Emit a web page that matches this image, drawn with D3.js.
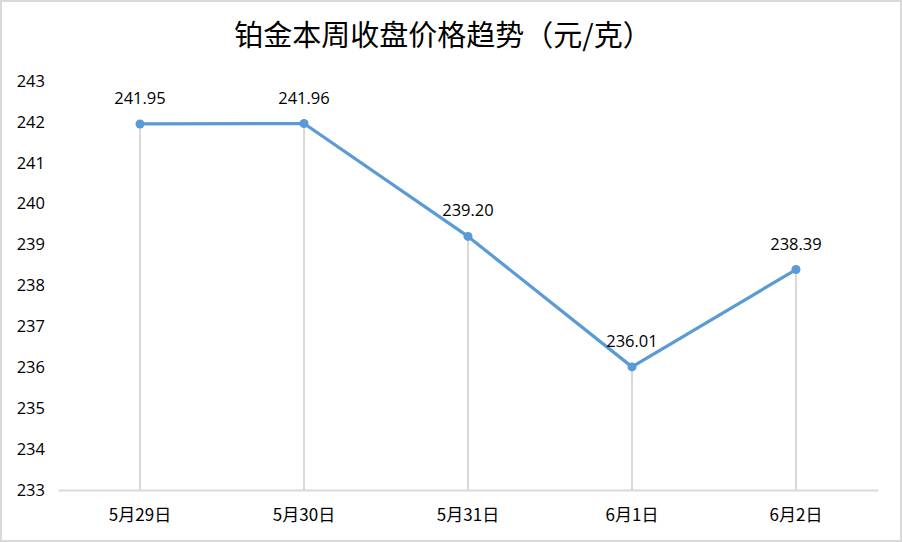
<!DOCTYPE html>
<html><head><meta charset="utf-8">
<script src="https://cdn.jsdelivr.net/npm/d3@7/dist/d3.min.js"></script>
<style>body{margin:0;background:#fff}svg{display:block}</style>
</head><body>
<script>
const categories = ["5月29日","5月30日","5月31日","6月1日","6月2日"];
const values = [241.95, 241.96, 239.20, 236.01, 238.39];
const yTicks = [233,234,235,236,237,238,239,240,241,242,243];
const labels = ["241.95","241.96","239.20","236.01","238.39"];
const title = "铂金本周收盘价格趋势（元/克）";

(function(){
const W = 902, H = 542;
const svg = d3.select("body").append("svg").attr("width", W).attr("height", H);
svg.append("rect").attr("x",1).attr("y",1).attr("width",W-2).attr("height",H-2)
  .attr("fill","#fff").attr("stroke","#d9d9d9").attr("stroke-width",2);

const mL = 58, mR = 878, mT = 81, mB = 490;
const x = d3.scaleBand().domain(categories).range([mL, mR]);
const y = d3.scaleLinear().domain([233, 243]).range([mB, mT]);
const font = "'Noto Sans CJK SC', 'Liberation Sans', sans-serif";
const numFont = "'Open Sans', 'Liberation Sans', sans-serif";

svg.append("text").attr("x", 443).attr("y", 46).attr("text-anchor","middle")
  .attr("font-family", font).attr("font-size", 29).attr("fill","#000").text(title);

const yAxis = d3.axisLeft(y).tickValues(yTicks).tickSize(0).tickPadding(0);
const ya = svg.append("g").attr("transform", `translate(${mL-13},0)`).call(yAxis);
ya.select(".domain").remove();
ya.selectAll("text").attr("font-family",numFont).attr("font-size",16.5).attr("fill","#000");

const cx = d => x(d) + x.bandwidth()/2;
svg.append("g").selectAll("line").data(categories).join("line")
  .attr("x1", cx).attr("x2", cx)
  .attr("y1", (d,i) => y(values[i])).attr("y2", mB)
  .attr("stroke","#d9d9d9").attr("stroke-width",2);

const xAxis = d3.axisBottom(x).tickSize(0).tickPadding(19);
const xa = svg.append("g").attr("transform", `translate(0,${mB})`).call(xAxis);
xa.select(".domain").attr("stroke","#d9d9d9").attr("stroke-width",2);
xa.selectAll("text").attr("font-family", font).attr("font-size",17).attr("fill","#000");

const line = d3.line().x((d,i) => cx(categories[i])).y(d => y(d));
svg.append("path").datum(values).attr("d", line).attr("fill","none")
  .attr("stroke","#5b9bd5").attr("stroke-width",3.25).attr("stroke-linejoin","round");
svg.append("g").selectAll("circle").data(values).join("circle")
  .attr("cx",(d,i)=>cx(categories[i])).attr("cy", d=>y(d)).attr("r",4.5).attr("fill","#5b9bd5");

svg.append("g").selectAll("text").data(values).join("text")
  .attr("x",(d,i)=>cx(categories[i])).attr("y", d=>y(d)-20)
  .attr("text-anchor","middle").attr("font-family",numFont)
  .attr("font-size",16.5).attr("fill","#000").text((d,i)=>labels[i]);
})();
</script>
</body></html>
